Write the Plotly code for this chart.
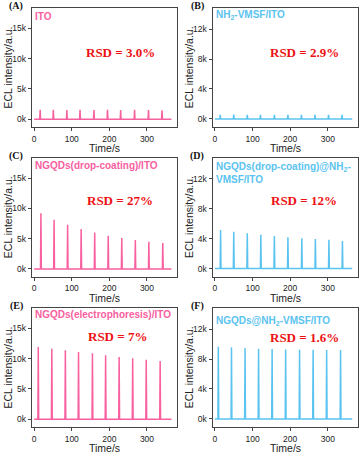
import plotly.graph_objects as go

W, H = 362, 454

# recording window (s)
time_start, time_end = 0, 365

# peak times (s) and peak ECL intensities (a.u.) per panel
times_A = [16, 51, 87, 122, 159, 195, 230, 267, 304, 340]
peaks_A = [1560, 1570, 1540, 1580, 1530, 1560, 1520, 1550, 1530, 1500]

times_B = [14, 50, 86, 121, 158, 194, 230, 266, 302, 338]
peaks_B = [560, 570, 550, 560, 540, 560, 530, 550, 540, 530]

times_C = [18, 53, 89, 125, 161, 197, 233, 269, 305, 342]
peaks_C = [9170, 8130, 7300, 6600, 6000, 5500, 5100, 4770, 4500, 4270]

times_D = [15, 50, 86, 122, 158, 194, 231, 267, 303, 339]
peaks_D = [5170, 4940, 4720, 4540, 4360, 4180, 4040, 3960, 3870, 3690]

times_E = [11, 47, 83, 118, 155, 190, 226, 262, 298, 335]
peaks_E = [11900, 11650, 11370, 11100, 10880, 10550, 10270, 10050, 9800, 9600]

times_F = [9, 44, 80, 116, 152, 188, 225, 261, 297, 334]
peaks_F = [9640, 9560, 9470, 9380, 9330, 9290, 9240, 9240, 9200, 9200]

# y tick labels
ticks_15k = [0, 5000, 10000, 15000]
text_15k = ["0k", "5k", "10k", "15k"]
ticks_12k = [0, 4000, 8000, 12000]
text_12k = ["0k", "4k", "8k", "12k"]
ticks_time = [0, 100, 200, 300]

panel_letters = ["(A)", "(B)", "(C)", "(D)", "(E)", "(F)"]
sample_names = [
    "ITO",
    "NH<sub>2</sub>-VMSF/ITO",
    "NGQDs(drop-coating)/ITO",
    "NGQDs(drop-coating)@NH<sub>2</sub>-<br>VMSF/ITO",
    "NGQDs(electrophoresis)/ITO",
    "NGQDs@NH<sub>2</sub>-VMSF/ITO",
]
rsd_labels = ["RSD = 3.0%", "RSD = 2.9%", "RSD = 27%", "RSD = 12%", "RSD = 7%", "RSD = 1.6%"]

PINK = "#F8609F"
BLUE = "#5BC3F0"
RED = "#EE1111"

series = [
    (times_A, peaks_A, PINK),
    (times_B, peaks_B, BLUE),
    (times_C, peaks_C, PINK),
    (times_D, peaks_D, BLUE),
    (times_E, peaks_E, PINK),
    (times_F, peaks_F, BLUE),
]

# frame positions in pixels
cols = [(31.7, 176.7), (212.5, 357.5)]
rows = [(8.3, 127.3), (158.0, 277.0), (308.3, 427.3)]
label_y = [16.5, 15.5, 165, 158.5, 314.5, 320.5]
rsd_pos = [(120.5, 52), (304, 52), (119.5, 200.5), (303.5, 200), (117, 336.7), (304, 337.7)]


def px(x):
    return x / W


def py(y):
    return 1 - y / H


fig = go.Figure()
annotations = []
layout = {}

for i, (times, peaks, color) in enumerate(series):
    r, c = divmod(i, 2)
    n = "" if i == 0 else str(i + 1)
    xs, ys = [time_start], [0]
    for t, h in zip(times, peaks):
        xs += [t - 1.1, t, t + 1.1]
        ys += [0, h, 0]
    xs.append(time_end)
    ys.append(0)
    fig.add_trace(go.Scatter(x=xs, y=ys, mode="lines", line=dict(color=color, width=1.5),
                             xaxis="x" + n, yaxis="y" + n, showlegend=False, hoverinfo="skip"))

    x0, x1 = cols[c]
    top, bot = rows[r]
    if c == 0:
        yr, tv, tt = [-1320, 18300], ticks_15k, text_15k
    else:
        yr, tv, tt = [-1120, 14780], ticks_12k, text_12k
    axis_common = dict(showline=True, linecolor="#444", linewidth=1, mirror=True,
                       ticks="outside", ticklen=3, tickcolor="#444", showgrid=False,
                       zeroline=False, automargin=False,
                       tickfont=dict(family="Liberation Sans", size=8.5, color="#222"))
    layout["xaxis" + n] = dict(domain=[px(x0), px(x1)], anchor="y" + n, range=[-6.5, 379],
                               tickvals=ticks_time, **axis_common)
    layout["yaxis" + n] = dict(domain=[py(bot), py(top)], anchor="x" + n, range=yr,
                               tickvals=tv, ticktext=tt, **axis_common)

    annotations.append(dict(x=px(x0 - 7), y=py(top - 2), text="<b>" + panel_letters[i] + "</b>",
                            xref="paper", yref="paper", xanchor="right", yanchor="middle",
                            showarrow=False, font=dict(family="Liberation Serif", size=10, color="#111")))
    annotations.append(dict(x=px(x0 + 1.5), y=py(label_y[i]), text="<b>" + sample_names[i] + "</b>",
                            xref="paper", yref="paper", xanchor="left",
                            yanchor="top" if i == 3 else "middle",
                            showarrow=False, align="left",
                            font=dict(family="Liberation Sans", size=10, color=color)))
    rx, ry = rsd_pos[i]
    annotations.append(dict(x=px(rx), y=py(ry), text="<b>" + rsd_labels[i] + "</b>",
                            xref="paper", yref="paper", xanchor="center", yanchor="middle",
                            showarrow=False, font=dict(family="Liberation Serif", size=13, color=RED)))
    annotations.append(dict(x=px(x0 - 24), y=py((top + bot) / 2), text="ECL intensity/a.u.",
                            xref="paper", yref="paper", textangle=-90, xanchor="center",
                            yanchor="middle", showarrow=False,
                            font=dict(family="Liberation Sans", size=10.5, color="#222")))
    annotations.append(dict(x=px((x0 + x1) / 2), y=py(bot + 21), text="Time/s",
                            xref="paper", yref="paper", xanchor="center", yanchor="middle",
                            showarrow=False, font=dict(family="Liberation Sans", size=10.5, color="#222")))

fig.update_layout(width=W, height=H, margin=dict(l=0, r=0, t=0, b=0, autoexpand=False),
                  plot_bgcolor="white", paper_bgcolor="white",
                  annotations=annotations, **layout)

# the page body has a default 8px margin; drop it so the figure sits at the window corner
fig.write_html("out.html", config={"displayModeBar": False},
               post_script="document.body.style.margin='0px';")
